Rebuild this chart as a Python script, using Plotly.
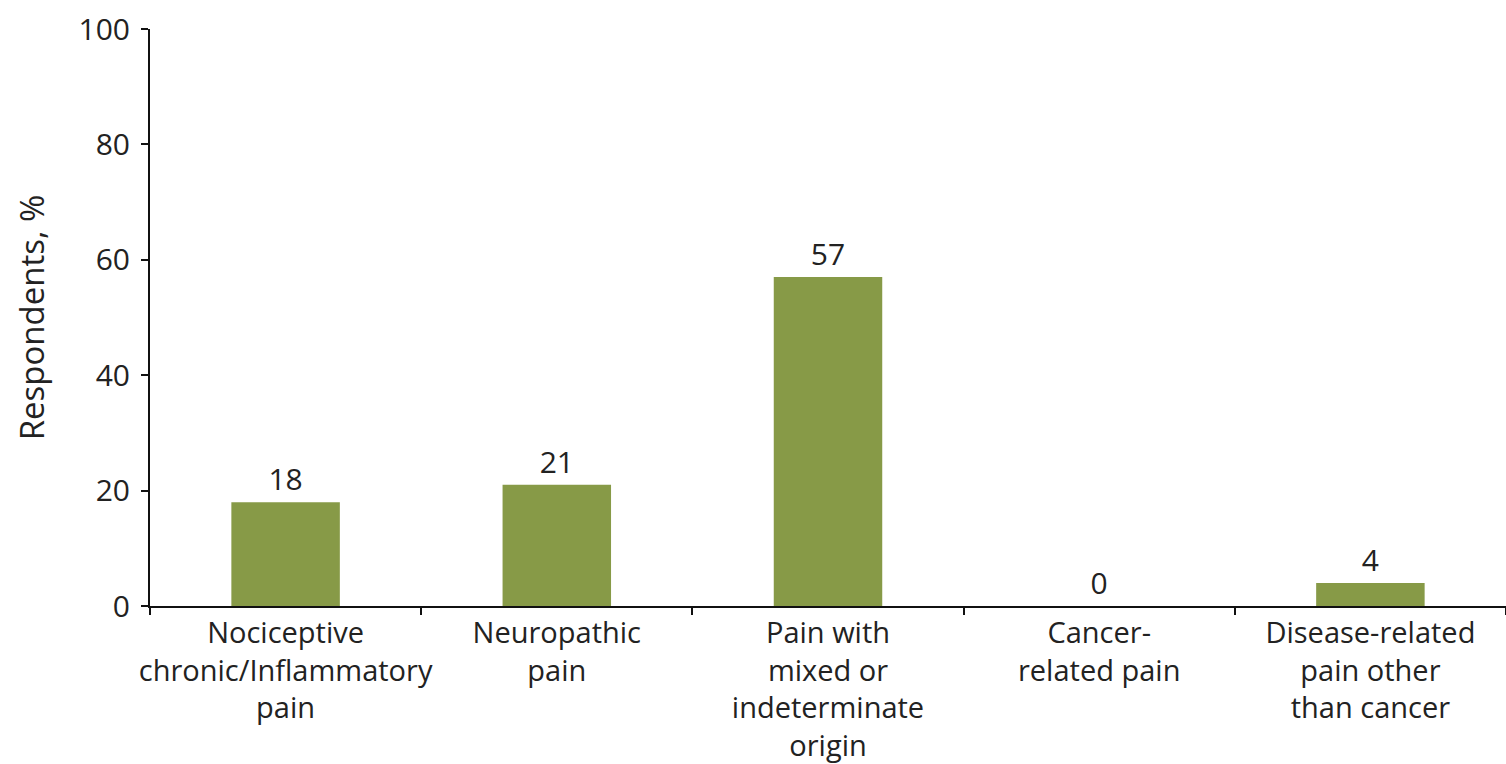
import plotly.graph_objects as go

categories = [
    "Nociceptive<br>chronic/Inflammatory<br>pain",
    "Neuropathic<br>pain",
    "Pain with<br>mixed or<br>indeterminate<br>origin",
    "Cancer-<br>related pain",
    "Disease-related<br>pain other<br>than cancer",
]
values = [18, 21, 57, 0, 4]
y_ticks = [0, 20, 40, 60, 80, 100]

FONT = "Open Sans"
TXT = "#222222"

fig = go.Figure(
    go.Bar(
        x=categories,
        y=values,
        width=0.4,
        marker=dict(color="#879a47", line=dict(width=0)),
        text=[str(v) for v in values],
        textposition="outside",
        textfont=dict(family=FONT, size=30, color=TXT),
        cliponaxis=False,
    )
)

fig.update_layout(
    width=1506,
    height=764,
    margin=dict(l=150, r=0, t=29, b=158),
    paper_bgcolor="white",
    plot_bgcolor="white",
    showlegend=False,
    font=dict(family=FONT, size=30, color=TXT),
)

fig.update_xaxes(
    automargin=False,
    tickangle=0,
    showline=True,
    linecolor="#111111",
    linewidth=2,
    ticks="outside",
    tickson="boundaries",
    ticklen=7,
    tickwidth=2,
    tickcolor="#111111",
    tickfont=dict(family=FONT, size=29, color=TXT),
    showgrid=False,
    zeroline=False,
)

fig.update_yaxes(
    automargin=False,
    range=[0, 100],
    tickvals=y_ticks,
    showline=True,
    linecolor="#111111",
    linewidth=2,
    ticks="outside",
    ticklen=7,
    tickwidth=2,
    tickcolor="#111111",
    ticklabelstandoff=5,
    tickfont=dict(family=FONT, size=30, color=TXT),
    showgrid=False,
    zeroline=False,
    title=dict(text="Respondents, %", font=dict(family=FONT, size=33, color=TXT), standoff=24),
)

fig.write_html("out.html")
